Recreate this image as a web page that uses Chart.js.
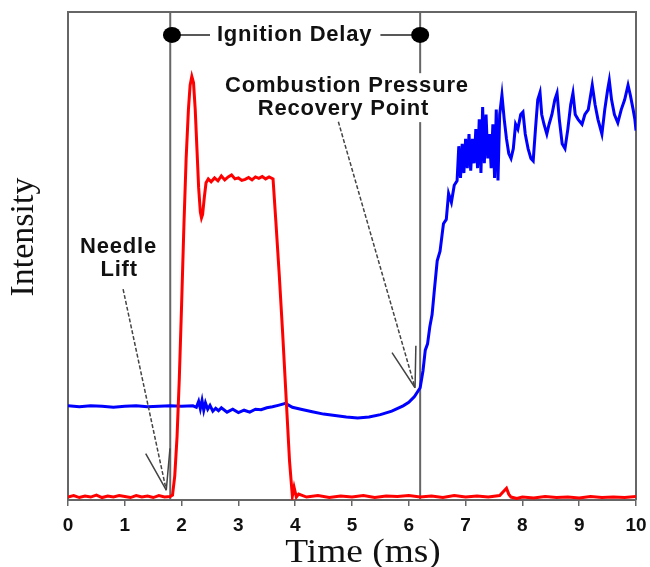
<!DOCTYPE html>
<html lang="en">
<head>
  <meta charset="UTF-8" />
  <title>Needle Lift and Combustion Pressure</title>
  <script src="https://cdn.jsdelivr.net/npm/chart.js"></script>
  <style>
    body { margin: 0; background: #fff; }
    #wrap { width: 650px; height: 567px; }
  </style>
</head>
<body>
  <div id="wrap"><canvas id="traceChart" width="650" height="567"></canvas></div>
  <script>
    // red trace (needle lift signal)
    const redTime = [
      0, 0.1, 0.2, 0.3, 0.4, 0.5, 0.6, 0.7, 0.8, 0.9,
      1.0, 1.1, 1.2, 1.3, 1.4, 1.5, 1.6, 1.7, 1.8,
      1.84, 1.88, 1.92, 1.96, 2.0, 2.04, 2.08, 2.12, 2.15, 2.18,
      2.21, 2.24, 2.27, 2.3, 2.33, 2.35, 2.37, 2.4, 2.43, 2.47,
      2.52, 2.58, 2.64, 2.7, 2.76, 2.82, 2.88, 2.94, 3.0, 3.06,
      3.12, 3.18, 3.24, 3.3, 3.36, 3.42, 3.48, 3.54, 3.61,
      3.66, 3.72, 3.78, 3.84, 3.9, 3.95, 3.98, 4.02, 4.06,
      4.2, 4.4, 4.6, 4.8, 5.0, 5.2, 5.4, 5.6, 5.8, 6.0,
      6.2, 6.4, 6.6, 6.8, 7.0, 7.2, 7.4, 7.6, 7.72, 7.76, 7.8,
      7.9, 8.0, 8.2, 8.4, 8.6, 8.8, 9.0, 9.2, 9.4, 9.6, 9.8, 10
    ];
    const redIntensity = [
      0.6, 0.9, 0.5, 0.8, 0.6, 1.0, 0.5, 0.8, 0.6, 0.9,
      0.7, 0.5, 0.9, 0.6, 0.8, 0.5, 0.9, 0.6, 0.7,
      1.0, 5, 13, 25, 40, 56, 70, 80, 85, 86.8,
      85.5, 80, 72, 64, 59, 57.8, 58.5, 62, 65, 65.8,
      65.2, 66.0, 65.4, 66.4, 65.6, 66.2, 66.6, 65.8, 66.0, 65.5,
      65.7, 66.1, 65.6, 66.2, 65.9, 66.3, 65.8, 66.2, 65.8,
      57, 46, 34, 21, 8, 0.8, 2.6, 0.6, 1.2,
      0.6, 0.9, 0.5, 0.8, 0.6, 0.9, 0.5, 0.8, 0.7, 0.9,
      0.6, 0.8, 0.5, 0.9, 0.6, 0.8, 0.6, 0.9, 2.4, 1.2, 0.6,
      0.3, 0.6, 0.4, 0.7, 0.5, 0.6, 0.4, 0.7, 0.5, 0.6, 0.5, 0.7
    ];

    // blue trace (combustion pressure)
    const blueTime = [
      0, 0.2, 0.4, 0.6, 0.8, 1.0, 1.2, 1.4, 1.6, 1.8, 2.0, 2.2,
      2.26, 2.3, 2.33, 2.36, 2.39, 2.42, 2.46, 2.5, 2.55, 2.6, 2.65, 2.7,
      2.8, 2.9, 3.0, 3.1, 3.2, 3.3, 3.4, 3.5, 3.6, 3.7, 3.83, 3.95,
      4.1, 4.3, 4.5, 4.7, 4.9, 5.1, 5.3, 5.5, 5.7, 5.9, 6.0, 6.1, 6.2,
      6.25, 6.29, 6.33, 6.37, 6.41, 6.45, 6.5, 6.55, 6.61, 6.66, 6.7, 6.75, 6.8, 6.85,
      6.88, 6.91, 6.94, 6.97, 7.0, 7.03, 7.06, 7.09, 7.12, 7.15, 7.18, 7.21,
      7.24, 7.27, 7.3, 7.33, 7.36, 7.39, 7.42, 7.45, 7.48, 7.51, 7.54, 7.57,
      7.6, 7.64, 7.68, 7.72, 7.76, 7.8, 7.84, 7.88, 7.92, 7.97, 8.01, 8.05,
      8.1, 8.15, 8.19, 8.23, 8.27, 8.31, 8.34, 8.38, 8.43, 8.47, 8.52, 8.57,
      8.61, 8.65, 8.7, 8.75, 8.8, 8.85, 8.89, 8.93, 8.98, 9.05, 9.1, 9.16,
      9.23, 9.28, 9.33, 9.4, 9.45, 9.5, 9.53, 9.57, 9.62, 9.68, 9.74, 9.8,
      9.86, 9.9, 9.95, 9.98, 10.0
    ];
    const blueIntensity = [
      19.3, 19.1, 19.3, 19.2, 19.0, 19.2, 19.3, 19.1, 19.2, 19.3, 19.2, 19.3,
      19.0, 20.2, 18.7, 20.4, 18.4, 19.9, 18.6, 19.4, 18.2, 18.8, 18.3, 18.9,
      18.0, 18.6, 17.9, 18.4, 18.0, 18.6, 18.5, 18.9, 19.1, 19.4, 19.8, 19.0,
      18.6, 18.1, 17.6, 17.3, 17.0, 16.8, 17.0, 17.5, 18.2, 19.3, 20.0, 21.2, 23.0,
      26.5, 30.7, 32.0, 35.5, 38.0, 43.0, 49.0, 51.0, 56.6, 57.5, 62.8, 61.0, 64.5, 65.4,
      72.5, 66.0, 73.0, 67.0, 74.0, 68.0, 75.0, 67.5, 74.0, 69.0, 76.0, 68.0,
      78.0, 67.0, 80.5, 69.0, 79.0, 70.0, 75.0, 68.0, 77.0, 66.0, 80.0, 65.5,
      79.0, 83.0, 78.0, 74.0, 71.0, 70.0, 72.0, 77.0, 76.0, 79.0, 79.5, 75.0,
      72.0, 70.0, 69.5, 76.0, 82.0, 83.5, 79.0, 77.0, 75.0, 77.0, 79.0, 82.0,
      83.4, 78.0, 73.0, 72.0, 76.0, 81.0, 83.4, 79.0, 78.0, 77.0, 79.0, 80.0,
      85.0, 81.0, 78.0, 75.0, 80.0, 84.0, 86.0, 82.0, 79.0, 77.3, 80.0, 82.0,
      85.0, 83.0, 80.0, 78.0, 75.7
    ];

    const xTicks = [0, 1, 2, 3, 4, 5, 6, 7, 8, 9, 10];
    const eventTimes = [1.8, 6.2];   // needle lift / recovery point

    const toPoints = (xs, ys) => xs.map((x, i) => ({ x: x, y: ys[i] }));

    const LINE = "#666";
    const INK = "#111";
    const LABEL_FONT = "bold 22px 'Liberation Sans', Arial, sans-serif";
    const TITLE_FONT = "34px 'Liberation Serif', 'Times New Roman', serif";

    function drawArrow(ctx, x0, y0, x1, y1) {
      const ang = Math.atan2(y0 - y1, x0 - x1);
      ctx.setLineDash([4, 2]);
      ctx.beginPath();
      ctx.moveTo(x0, y0);
      ctx.lineTo(x1, y1);
      ctx.stroke();
      ctx.setLineDash([]);
      ctx.beginPath();
      [-0.3, 0.3].forEach(d => {
        ctx.moveTo(x1, y1);
        ctx.lineTo(x1 + 42 * Math.cos(ang + d), y1 + 42 * Math.sin(ang + d));
      });
      ctx.stroke();
    }

    function label(ctx, text, x, y, clear) {
      ctx.font = LABEL_FONT;
      ctx.letterSpacing = "0.8px";
      ctx.textAlign = "center";
      ctx.textBaseline = "middle";
      if (clear) {
        const w = ctx.measureText(text).width;
        ctx.fillStyle = "#fff";
        ctx.fillRect(x - w / 2 - 3, y - 13, w + 6, 26);
      }
      ctx.fillStyle = INK;
      ctx.fillText(text, x, y);
    }

    const overlay = {
      id: "overlay",
      beforeDatasetsDraw(chart) {
        const { ctx, chartArea: a, scales: { x } } = chart;
        ctx.save();
        ctx.strokeStyle = LINE;
        ctx.lineWidth = 2;
        ctx.beginPath();
        ctx.moveTo(a.left, a.top);
        ctx.lineTo(a.right, a.top);
        ctx.lineTo(a.right, a.bottom);
        eventTimes.forEach(t => {
          const px = x.getPixelForValue(t);
          ctx.moveTo(px, a.top);
          ctx.lineTo(px, a.bottom);
        });
        ctx.stroke();
        ctx.restore();
      },
      afterDatasetsDraw(chart) {
        const { ctx, chartArea: a, scales: { x, y } } = chart;
        const X = v => x.getPixelForValue(v);
        const Y = v => y.getPixelForValue(v);
        ctx.save();

        // ignition delay bracket
        const yd = Y(95.3);
        ctx.strokeStyle = "#222";
        ctx.lineWidth = 1.5;
        ctx.beginPath();
        ctx.moveTo(X(1.83), yd); ctx.lineTo(X(2.5), yd);
        ctx.moveTo(X(5.5), yd); ctx.lineTo(X(6.2), yd);
        ctx.stroke();
        ctx.fillStyle = "#000";
        [1.83, 6.2].forEach(t => {
          ctx.beginPath();
          ctx.ellipse(X(t), yd, 9, 8, 0, 0, Math.PI * 2);
          ctx.fill();
        });
        label(ctx, "Ignition Delay", X(3.99), yd, false);

        // combustion pressure recovery point
        label(ctx, "Combustion Pressure", X(4.91), Y(84.8), true);
        label(ctx, "Recovery Point", X(4.85), Y(80.1), true);

        // needle lift
        label(ctx, "Needle", X(0.89), Y(51.8), false);
        label(ctx, "Lift", X(0.9), Y(47.1), false);

        ctx.strokeStyle = "#444";
        ctx.lineWidth = 1.5;
        drawArrow(ctx, X(0.97), Y(43.2), X(1.73), Y(2.0));
        drawArrow(ctx, X(4.76), Y(77.5), X(6.11), Y(23));

        // axis titles (the source figure has them slightly widened)
        ctx.letterSpacing = "0px";
        ctx.font = TITLE_FONT;
        ctx.fillStyle = INK;
        ctx.textAlign = "center";
        ctx.textBaseline = "alphabetic";
        ctx.save();
        ctx.translate((a.left + a.right) / 2 + 11, 562);
        ctx.scale(1.1, 1);
        ctx.fillText("Time (ms)", 0, 0);
        ctx.restore();
        ctx.save();
        ctx.translate(33, 237);
        ctx.rotate(-Math.PI / 2);
        ctx.fillText("Intensity", 0, 0);
        ctx.restore();

        ctx.restore();
      }
    };

    new Chart(document.getElementById("traceChart").getContext("2d"), {
      type: "line",
      data: {
        datasets: [
          {
            label: "Needle lift",
            data: toPoints(redTime, redIntensity),
            borderColor: "#ff0000",
            borderWidth: 3,
            pointRadius: 0,
            tension: 0
          },
          {
            label: "Pressure",
            data: toPoints(blueTime, blueIntensity),
            borderColor: "#0000ff",
            borderWidth: 3,
            pointRadius: 0,
            tension: 0
          }
        ]
      },
      options: {
        responsive: false,
        animation: false,
        layout: { padding: { top: 12, right: 14, left: 0, bottom: 0 } },
        plugins: { legend: { display: false }, tooltip: { enabled: false } },
        scales: {
          x: {
            type: "linear",
            min: 0,
            max: 10,
            afterBuildTicks: s => { s.ticks = xTicks.map(v => ({ value: v })); },
            afterFit: s => { s.height = 67; s.paddingLeft = 0; s.paddingRight = 0; },
            ticks: {
              color: INK,
              padding: 8,
              font: { family: "'Liberation Sans', Arial, sans-serif", size: 19, weight: "bold" }
            },
            grid: { drawOnChartArea: false, drawTicks: true, tickLength: 6, color: LINE, lineWidth: 1.5 },
            border: { color: LINE, width: 2 }
          },
          y: {
            min: 0,
            max: 100,
            afterFit: s => { s.width = 68; },
            ticks: { display: false },
            grid: { display: false },
            border: { color: LINE, width: 2 }
          }
        }
      },
      plugins: [overlay]
    });
  </script>
</body>
</html>
